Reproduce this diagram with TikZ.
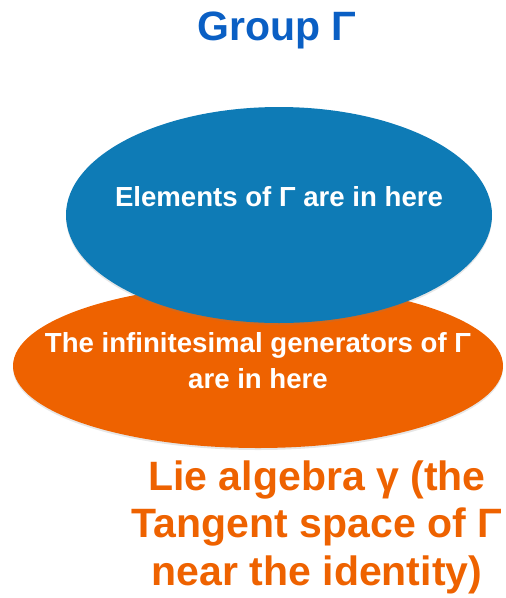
\documentclass[tikz,border=0pt]{standalone}
\usepackage{fontspec}
\setmainfont{Liberation Sans}
\usetikzlibrary{shapes.geometric,shadows}
\definecolor{groupblue}{HTML}{0E7BB6}
\definecolor{algorange}{HTML}{EE6200}
\definecolor{titleblue}{HTML}{0A5FC4}

\begin{document}
\begin{tikzpicture}[x=1pt, y=-1pt,
  blob/.style={ellipse, inner sep=0pt, drop shadow={opacity=0.2, shadow xshift=0pt, shadow yshift=-2pt}},
  intext/.style={text=white, font=\bfseries\fontsize{27.6}{36}\selectfont, align=center, inner sep=0pt}]
\useasboundingbox (0,0) rectangle (506,598);
% the two sets
\node[blob, fill=algorange, minimum width=490pt, minimum height=164pt] (alg) at (258,366) {};
\node[blob, fill=groupblue, minimum width=426pt, minimum height=216pt] (grp) at (279,215) {};
% labels
\node[font=\bfseries\fontsize{41}{44}\selectfont, text=titleblue, anchor=base, inner sep=0pt] (title) at (277,40) {Group Γ};
\node[intext, anchor=base] (elem) at (279,206) {Elements of Γ are in here};
\node[intext, anchor=base] (gens) at (258,388) {The infinitesimal generators of Γ\\are in here};
\node[font=\bfseries\fontsize{41}{47.5}\selectfont, text=algorange, align=center, anchor=base, inner sep=0pt] (lie) at (317,585) {Lie algebra γ (the\\Tangent space of Γ\\near the identity)};
\end{tikzpicture}
\end{document}
